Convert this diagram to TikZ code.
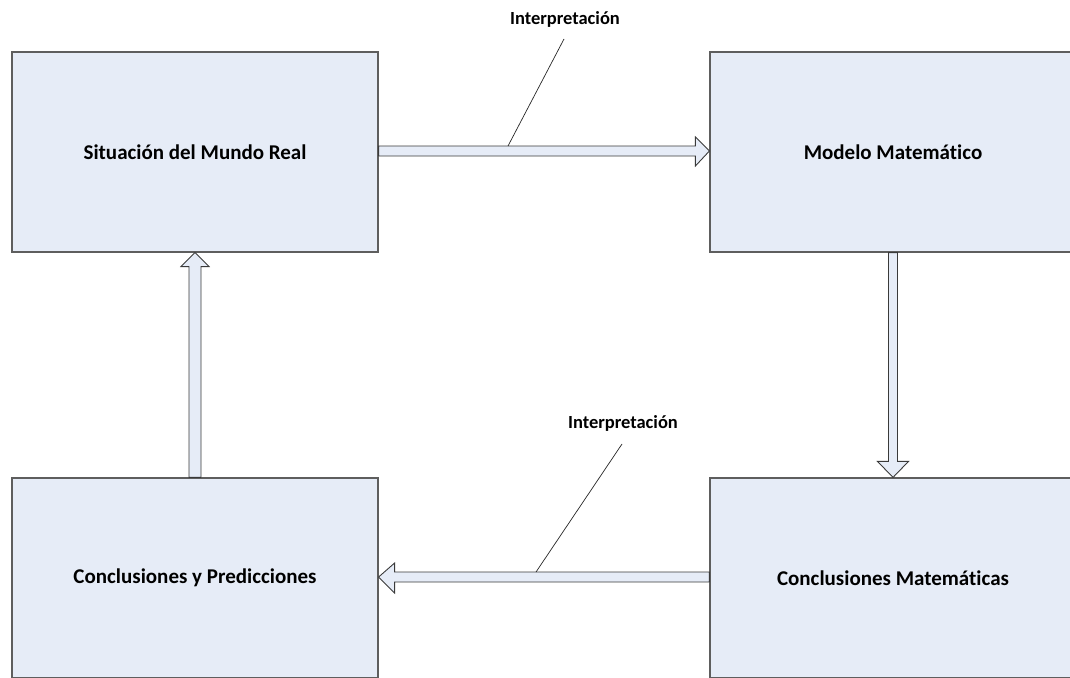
\documentclass[tikz,border=0pt]{standalone}
\usepackage{fontspec}
\setmainfont{Carlito}[RawFeature=-liga]
\usetikzlibrary{calc}

\definecolor{boxfill}{HTML}{E6ECF7}
\definecolor{boxline}{HTML}{5E5E5E}
\definecolor{arrowline}{HTML}{3A3A3A}

\tikzset{
  stage/.style={draw=boxline, line width=1.2pt, fill=boxfill,
    minimum width=366pt, minimum height=200pt, inner sep=0pt,
    font=\bfseries\fontsize{21}{24}\selectfont},
  flowarrow/.style={draw=arrowline, line width=0.9pt, fill=boxfill, line join=miter},
  caption/.style={font=\bfseries\fontsize{18.5}{21}\selectfont, inner sep=1pt},
  pointer/.style={draw=black!85, line width=0.7pt}
}

\begin{document}
\begin{tikzpicture}[x=1pt, y=-1pt]
  \useasboundingbox (0,0) rectangle (1070,677);
  \clip (0,0) rectangle (1070,677);

  % the four stages of the modelling cycle
  \node[stage] (real)  at (195,152) {Situación del Mundo Real};
  \node[stage] (model) at (893,152) {Modelo Matemático};
  \node[stage] (pred)  at (195,578) {Conclusiones y Predicciones};
  \node[stage] (concl) at (893,578) {Conclusiones Matemáticas};

  % block arrow: real situation -> model
  \draw[flowarrow]
    ($(real.east)+(0,-6)$) -- ($(model.west)+(-14,-6)$) -- ($(model.west)+(-14,-15)$)
    -- ($(model.west)+(0,-1)$)
    -- ($(model.west)+(-14,14)$) -- ($(model.west)+(-14,4)$) -- ($(real.east)+(0,4)$) -- cycle;

  % block arrow: model -> mathematical conclusions
  \draw[flowarrow]
    ($(model.south)+(-4.5,0)$) -- ($(concl.north)+(-4.5,-16)$) -- ($(concl.north)+(-15.5,-16)$)
    -- (concl.north)
    -- ($(concl.north)+(15.5,-16)$) -- ($(concl.north)+(4.5,-16)$) -- ($(model.south)+(4.5,0)$) -- cycle;

  % block arrow: mathematical conclusions -> predictions
  \draw[flowarrow]
    ($(concl.west)+(0,-6)$) -- ($(pred.east)+(16,-6)$) -- ($(pred.east)+(16,-15)$)
    -- ($(pred.east)+(0,-1)$)
    -- ($(pred.east)+(16,15)$) -- ($(pred.east)+(16,4)$) -- ($(concl.west)+(0,4)$) -- cycle;

  % block arrow: predictions -> real situation
  \draw[flowarrow]
    ($(pred.north)+(-6,0)$) -- ($(real.south)+(-6,14)$) -- ($(real.south)+(-14,14)$)
    -- (real.south)
    -- ($(real.south)+(14,14)$) -- ($(real.south)+(6,14)$) -- ($(pred.north)+(6,0)$) -- cycle;

  % labels with their leader lines
  \node[caption] (topcap) at (565,19) {Interpretación};
  \coordinate (toptouch) at (508,146);
  \draw[pointer] (564,39) -- (toptouch);

  \node[caption] (botcap) at (623,423) {Interpretación};
  \coordinate (bottouch) at (536,572);
  \draw[pointer] (622,444) -- (bottouch);
\end{tikzpicture}
\end{document}
